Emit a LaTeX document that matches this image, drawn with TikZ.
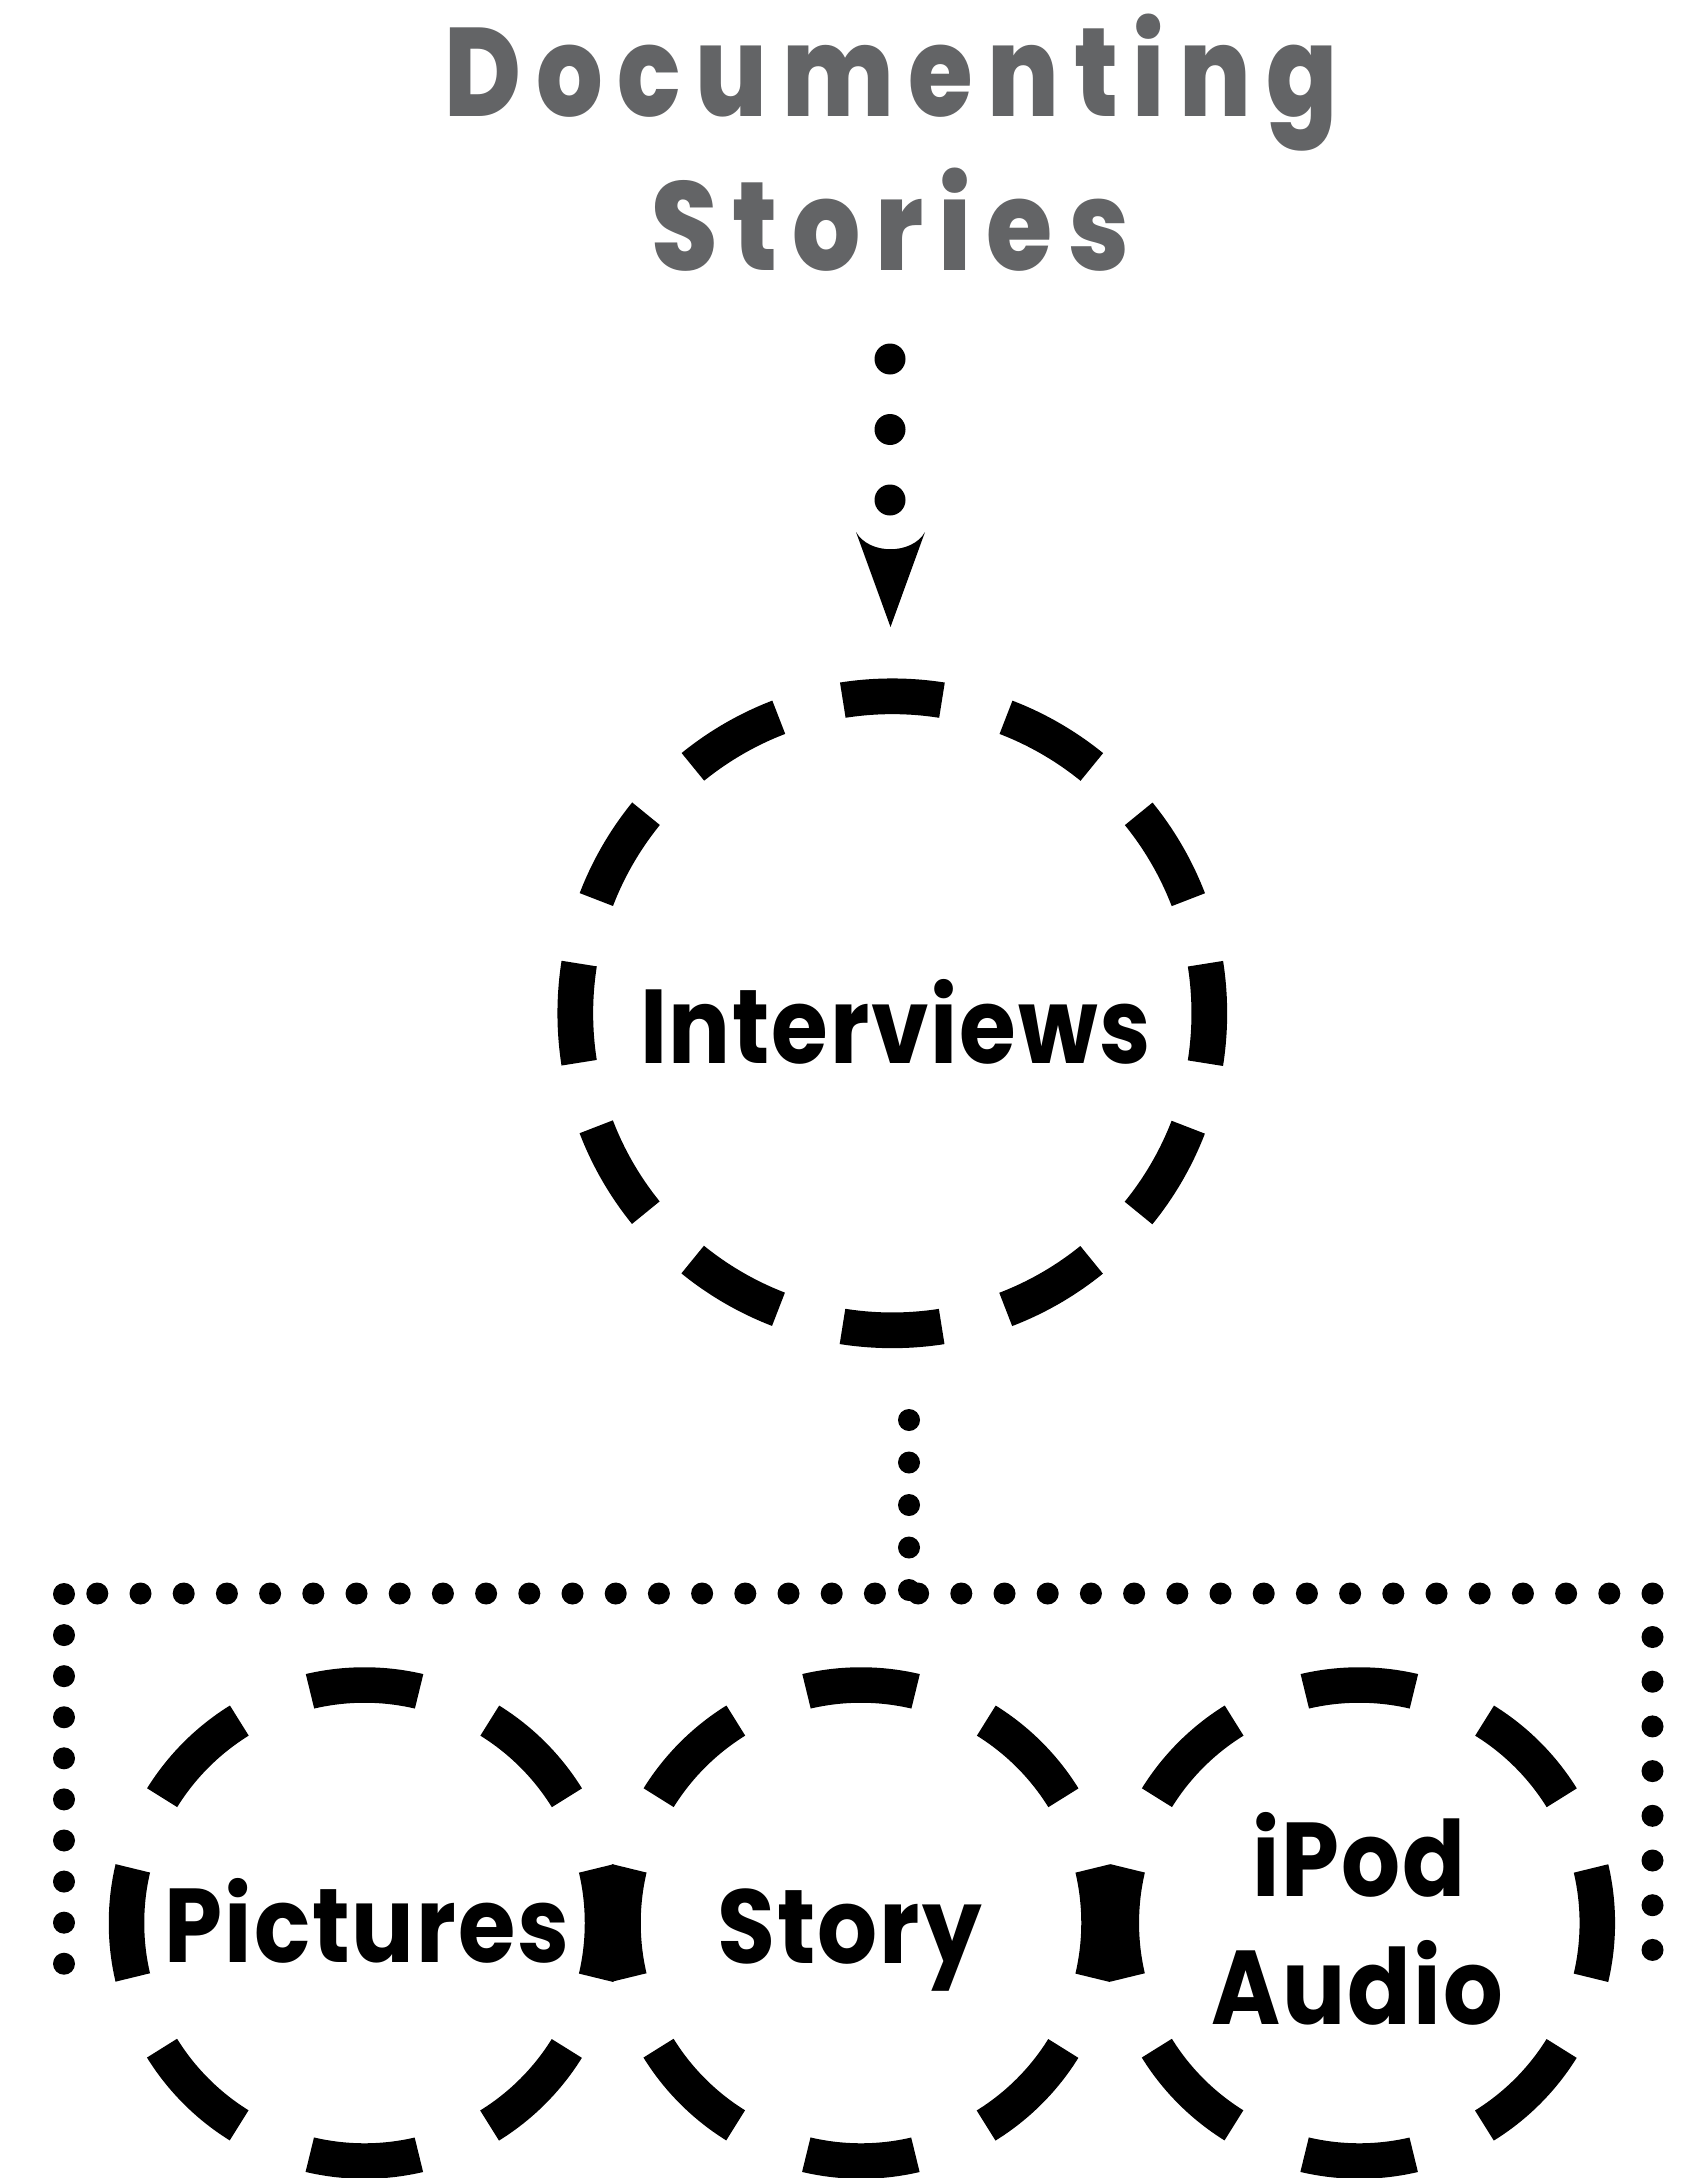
\documentclass[tikz,border=0pt]{standalone}
\usepackage{fontspec}
\usepackage{graphicx}
\usetikzlibrary{calc}
\newfontfamily\popfont{Poppins}[LetterSpace=2]
\newfontfamily\poptitle{Poppins}[BoldFont={* ExtraBold}, LetterSpace=14]
\definecolor{titlegray}{HTML}{636466}
\begin{document}
\begin{tikzpicture}[x=0.5pt,y=-0.5pt,
  ring8/.style={circle, draw=black, line width=17.75pt, minimum size=238pt, inner sep=0pt,
    dash pattern=on 55.04pt off 38.42pt, dash phase=27.52pt},
  ring12/.style={circle, draw=black, line width=17.85pt, minimum size=317pt, inner sep=0pt,
    dash pattern=on 49.79pt off 33.2pt, dash phase=24.9pt},
  lbl/.style={font=\popfont\bfseries\fontsize{52.5pt}{63pt}\selectfont, inner sep=0pt, anchor=base, text=black},
  ttl/.style={font=\poptitle\bfseries\fontsize{62.9pt}{76pt}\selectfont, inner sep=0pt, anchor=base, text=titlegray},
  dotrow/.style={line width=11pt, line cap=round, dash pattern=on 0pt off #1},
  dotbig/.style={line width=15.5pt, line cap=round, dash pattern=on 0pt off #1},
]
\useasboundingbox[fill=white] (0,0) rectangle (1684,2178);

% title
\node[ttl] (title1) at (891,117) {\resizebox{446.5pt}{\height}{Documenting}};
\node[ttl] (title2) at (890,270.5) {\resizebox{239pt}{\height}{Stories}};

% circles
\node[ring12] (interviews) at (892.3,1013.3) {};
\node[lbl] (interviewsT) at (895.5,1063.5) {\resizebox{255.5pt}{\height}{Interviews}};

\node[ring8] (pictures) at (364.5,1923) {};
\node[ring8] (story) at (861,1923) {};
\node[ring8] (ipod) at (1359.3,1923) {};
\node[lbl] (picturesT) at (367,1962.6) {\resizebox{202pt}{\height}{Pictures}};
\node[lbl] (storyT) at (849.7,1963.7) {\resizebox{132pt}{\height}{Story}};
\node[lbl] (ipodT) at (1358.7,1896.7) {\resizebox{106.5pt}{\height}{iPod}};
\node[lbl] (audioT) at (1357.3,2024.5) {\resizebox{145.5pt}{\height}{Audio}};

% connector title -> interviews
\coordinate (u1) at (890,359);
\coordinate (u3) at (890,500.6);
\coordinate (tip) at (890.5,627);
\draw[dotbig=35.25pt] (u1) -- (u3);
\fill[black] ($(tip)+(-34.5,-95)$) -- (tip) -- ($(tip)+(34.5,-95)$)
  .. controls ($(tip)+(21.5,-72)$) and ($(tip)+(-21.5,-72)$) .. ($(tip)+(-34.5,-95)$) -- cycle;

% connector interviews -> group frame
\coordinate (l1) at (909,1420);
\coordinate (l5) at (909,1590.5);
\draw[dotrow=21.25pt] (l1) -- (l5);

% dotted frame
\coordinate (fL1) at (64,1594);
\coordinate (fL2) at (64,1964.2);
\coordinate (fT1) at (97.3,1593.5);
\coordinate (fT2) at (1653,1593.5);
\coordinate (fR1) at (1652.5,1637);
\coordinate (fR2) at (1652.5,1950.4);
\draw[dotrow=20.54pt] (fL1) -- (fL2);
\draw[dotrow=21.6pt] (fT1) -- (fT2);
\draw[dotrow=22.35pt] (fR1) -- (fR2);
\end{tikzpicture}
\end{document}
